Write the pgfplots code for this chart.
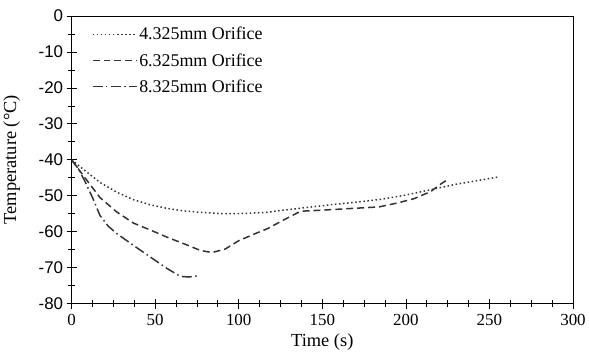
\documentclass[border=0pt]{standalone}
\usepackage{fontspec}
\setmainfont{Liberation Serif}
\newfontfamily\ticksans{Liberation Sans}
\usepackage{pgfplots}
\pgfplotsset{compat=1.18}
\definecolor{ln}{HTML}{333333}
\begin{document}
\begin{tikzpicture}
\begin{axis}[
  scale only axis,
  width=502bp, height=288bp,
  xmin=0, xmax=300, ymin=-80, ymax=0,
  xtick={0,50,...,300}, ytick={-80,-70,...,0},
  minor x tick num=3, minor y tick num=1,
  tick pos=left,
  tick align=center,
  major tick length=10bp, minor tick length=7bp,
  every tick/.style={black, line width=0.7pt},
  axis line style={black, line width=0.8pt},
  xticklabel style={font=\fontsize{17}{17}\selectfont, yshift=-2bp},
  yticklabel style={font=\fontsize{17}{17}\selectfont\ticksans},
  /pgf/number format/assume math mode=true,
  xlabel={Time (s)}, ylabel={Temperature (°C)},
  label style={font=\fontsize{18.5}{18.5}\selectfont},
  xlabel style={at={(axis description cs:0.5,0)}, anchor=center, yshift=-38bp},
  ylabel style={at={(axis description cs:0,0.5)}, anchor=center, yshift=60bp},
  legend style={draw=none, fill=none, at={(0.034,0.975)}, anchor=north west,
    font=\fontsize{18}{18}\selectfont, row sep=8bp},
  legend cell align=left,
  legend image code/.code={\draw[#1] (0bp,0bp) -- (44bp,0bp);},
]
\draw[black, line width=0.8pt] (rel axis cs:0,1) -- (rel axis cs:1,1) -- (rel axis cs:1,0);
\addplot[ln, line width=1.5pt, dash pattern=on 1.5pt off 2.6pt] coordinates {
(0,-40) (8,-43) (17,-46.3) (27,-49) (37,-51.1) (47,-52.5) (57,-53.5) (67,-54.2) (77,-54.6) (90,-55) (105,-54.9) (117,-54.6) (125,-54.1) (140,-53.3) (155,-52.5) (170,-51.8) (185,-51.0) (200,-49.8) (215,-48.3) (230,-46.8) (245,-45.6) (255,-44.8)
};
\addlegendentry{4.325mm Orifice}
\addplot[ln, line width=1.5pt, dash pattern=on 7pt off 4pt] coordinates {
(0,-40) (8,-45) (17,-50.5) (27,-54.5) (37,-57.6) (47,-59.5) (57,-61.5) (67,-63.3) (77,-65.2) (84,-65.8) (92,-64.8) (100,-62.5) (110,-60.5) (117,-59.2) (127,-56.7) (137,-54.3) (150,-54) (165,-53.6) (184,-53.1) (195,-52) (205,-50.8) (215,-48.8) (220,-47) (225,-45.5)
};
\addlegendentry{6.325mm Orifice}
\addplot[ln, line width=1.5pt, dash pattern=on 10pt off 3.5pt on 1.5pt off 3.5pt] coordinates {
(0,-40) (4,-42.5) (8,-46) (13,-51) (17,-55.5) (22,-58.5) (27,-60.5) (37,-63.8) (47,-67) (57,-70.2) (65,-72.4) (70,-72.6) (75,-72.3)
};
\addlegendentry{8.325mm Orifice}
\end{axis}
\path ([yshift=16bp]current axis.north west);
\end{tikzpicture}
\end{document}
